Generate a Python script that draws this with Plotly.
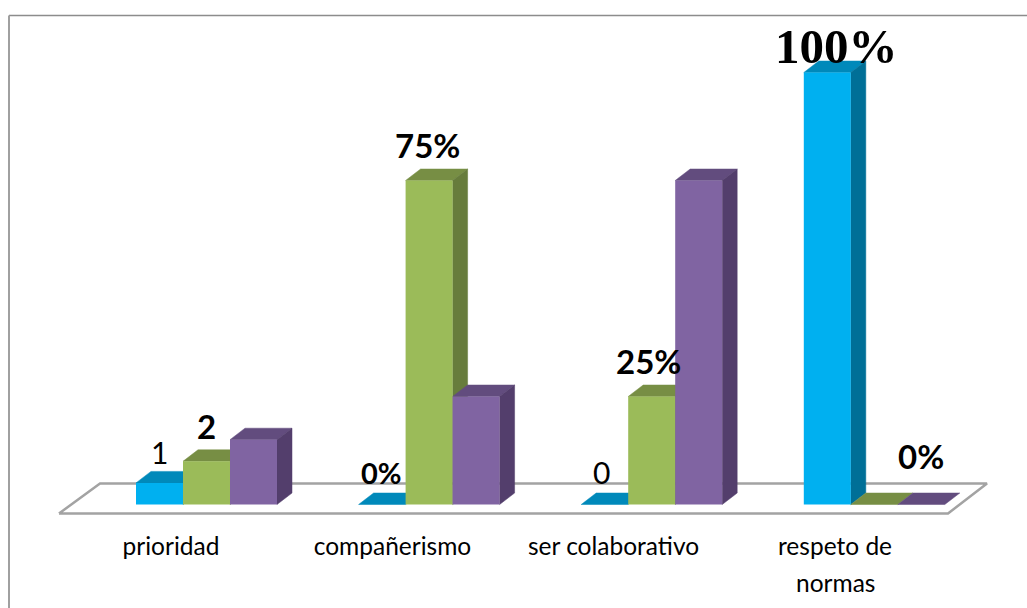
import plotly.graph_objects as go

categories = ["prioridad", "compañerismo", "ser colaborativo", "respeto de"]
category_extra = "normas"
blue_values = [5, 0, 0, 100]
green_values = [10, 75, 25, 0]
purple_values = [15, 25, 75, 0]

series = [
    ("azul", blue_values, "#00B0F0", "#0089BA", "#006F97"),
    ("verde", green_values, "#9BBB59", "#778E44", "#677C3C"),
    ("morado", purple_values, "#8064A2", "#624C7E", "#533E6C"),
]

# text, group, series, bold, xshift, yshift, font family, size
data_labels = [
    ("1", 0, 0, False, 0, 31, "Lato", 30),
    ("2", 0, 1, True, 0, 35, "Lato", 33),
    ("0%", 1, 0, True, -1, 32, "Lato", 29),
    ("75%", 1, 1, True, -2, 36, "Lato", 33),
    ("0", 2, 0, False, -3, 33, "Lato", 30),
    ("25%", 2, 1, True, -3, 36, "Lato", 33),
    ("100%", 3, 0, True, 9, 26, "Liberation Serif", 49),
    ("0%", 3, 2, True, 0, 49, "Lato", 33),
]

W, H = 1027, 608
PX_X = 222.6          # pixels per group
PX_Y = 4.32           # pixels per percent
X0 = 206.5            # pixel of first group's centre
Y0 = 504.5            # pixel of value 0
PLOT_BOTTOM = 516
BAR = 47 / PX_X
DX = 15 / PX_X
DY = 11.5 / PX_Y
TICK_PX = [171, 392.5, 613.5, 835]


def ux(px):
    return (px - X0) / PX_X


def uy(py):
    return (Y0 - py) / PX_Y


fig = go.Figure()

# floor
floor_x = [ux(p) for p in (59, 100, 987, 948, 59)]
floor_y = [uy(p) for p in (513.5, 483.5, 483.5, 513.5, 513.5)]
fig.add_trace(go.Scatter(x=floor_x, y=floor_y, mode="lines", fill="toself",
                         fillcolor="white", line=dict(color="#A3A3A3", width=2.5),
                         hoverinfo="skip", showlegend=False, cliponaxis=False))

# depth faces, drawn behind the front faces
for g in range(len(categories)):
    for s, (_, vals, _, top, side) in enumerate(series):
        v = vals[g]
        left = g + (s - 1.5) * BAR
        right = left + BAR
        fig.add_trace(go.Scatter(
            x=[left, right, right + DX, left + DX, left],
            y=[v, v, v + DY, v + DY, v],
            mode="lines", fill="toself", fillcolor=top, line=dict(color=top, width=0.5),
            hoverinfo="skip", showlegend=False, cliponaxis=False))
        if v > 0:
            fig.add_trace(go.Scatter(
                x=[right, right + DX, right + DX, right, right],
                y=[0, DY, v + DY, v, 0],
                mode="lines", fill="toself", fillcolor=side, line=dict(color=side, width=0.5),
                hoverinfo="skip", showlegend=False, cliponaxis=False))

# front faces
for name, vals, front, _, _ in series:
    fig.add_trace(go.Bar(x=list(range(len(categories))), y=vals, name=name,
                         marker=dict(color=front, line=dict(width=0)),
                         yaxis="y2", showlegend=False, cliponaxis=False))

annotations = []
for text, g, s, bold, xs, ys, family, size in data_labels:
    annotations.append(dict(
        x=g + (s - 1) * BAR, y=series[s][1][g], xref="x", yref="y",
        text=f"<b>{text}</b>" if bold else text, showarrow=False,
        xanchor="center", yanchor="middle", xshift=xs, yshift=ys,
        font=dict(family=family, size=size, color="black")))

annotations.append(dict(
    x=ux(TICK_PX[3]), y=(PLOT_BOTTOM - 582) / (PLOT_BOTTOM), xref="x", yref="paper",
    text=category_extra, showarrow=False, xanchor="center", yanchor="middle",
    font=dict(family="Lato", size=24.5, color="black")))

yr = [uy(PLOT_BOTTOM), uy(0)]
fig.update_layout(
    width=W, height=H, margin=dict(l=0, r=0, t=0, b=H - PLOT_BOTTOM),
    paper_bgcolor="white", plot_bgcolor="white",
    barmode="group", bargap=1 - 3 * BAR,
    showlegend=False,
    xaxis=dict(range=[ux(0), ux(W)], tickmode="array",
               tickvals=[ux(p) for p in TICK_PX],
               ticktext=categories, showgrid=False, zeroline=False, showline=False,
               ticks="", ticklabelstandoff=13,
               tickfont=dict(family="Lato", size=24.5, color="black")),
    yaxis=dict(range=yr, visible=False, showgrid=False, zeroline=False),
    yaxis2=dict(range=yr, visible=False, overlaying="y", showgrid=False, zeroline=False),
    annotations=annotations,
    shapes=[
        dict(type="line", xref="paper", yref="paper", x0=9 / W, x1=1, y0=(PLOT_BOTTOM - 15.5) / PLOT_BOTTOM,
             y1=(PLOT_BOTTOM - 15.5) / PLOT_BOTTOM, line=dict(color="#8C8C8C", width=1.5)),
        dict(type="line", xref="paper", yref="paper", x0=9 / W, x1=9 / W, y0=(PLOT_BOTTOM - 15.5) / PLOT_BOTTOM,
             y1=(PLOT_BOTTOM - H) / PLOT_BOTTOM, line=dict(color="#A0A0A0", width=2)),
    ],
)

fig.write_html("out.html", config={"displayModeBar": False},
               post_script="document.body.style.margin='0';document.body.style.overflow='hidden';")
